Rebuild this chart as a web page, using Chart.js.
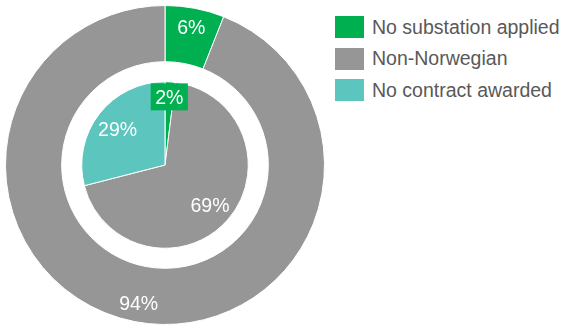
<!DOCTYPE html>
<html>
<head>
<meta charset="utf-8">
<script src="https://cdn.jsdelivr.net/npm/chart.js@4.4.1/dist/chart.umd.min.js"></script>
<style>
  html, body { margin: 0; padding: 0; background: #ffffff; }
  body { width: 568px; height: 329px; position: relative; overflow: hidden;
         font-family: "Liberation Sans", Arial, sans-serif; }
  #wrap { position: absolute; left: 5px; top: 5px; width: 320px; height: 320px; }
  #legend { position: absolute; left: 335px; top: 16px; }
  .item { display: flex; align-items: center; height: 22px; margin-bottom: 9.5px; }
  .swatch { width: 29px; height: 22px; margin-right: 8px; flex: none; }
  .lbl { font-size: 19.5px; color: #595959; white-space: nowrap; }
</style>
</head>
<body>
<div id="wrap"><canvas id="c"></canvas></div>
<div id="legend"></div>
<script>
// Categories and shares (percent)
const categories = ['No substation applied', 'Non-Norwegian', 'No contract awarded'];
const outerValues = [6, 94, null];   // outer ring
const innerValues = [2, 69, 29];     // inner pie
const colors = ['#00B050', '#969696', '#5CC6BE'];

// Legend
const legendEl = document.getElementById('legend');
categories.forEach((name, i) => {
  const row = document.createElement('div');
  row.className = 'item';
  const sw = document.createElement('div');
  sw.className = 'swatch';
  sw.style.background = colors[i];
  const tx = document.createElement('span');
  tx.className = 'lbl';
  tx.textContent = name;
  row.appendChild(sw);
  row.appendChild(tx);
  legendEl.appendChild(row);
});

// Percentage labels drawn on the arcs
const pctLabels = {
  id: 'pctLabels',
  afterDatasetsDraw(chart) {
    const ctx = chart.ctx;
    ctx.save();
    ctx.font = '19.5px "Liberation Sans", Arial, sans-serif';
    ctx.textAlign = 'center';
    ctx.textBaseline = 'middle';
    chart.data.datasets.forEach((ds, di) => {
      if (!ds.showLabels) return;
      const meta = chart.getDatasetMeta(di);
      meta.data.forEach((arc, i) => {
        const v = ds.data[i];
        if (v == null || !v) return;
        const p = arc.getProps(['x', 'y', 'startAngle', 'endAngle', 'innerRadius', 'outerRadius'], true);
        const mid = (p.startAngle + p.endAngle) / 2;
        const boxed = v < 5 && di > 0;
        const f = boxed ? 0.82 : ds.labelPos;
        const r = p.innerRadius + f * (p.outerRadius - p.innerRadius);
        const x = p.x + Math.cos(mid) * r;
        const y = p.y + Math.sin(mid) * r;
        const text = v + '%';
        if (boxed) {
          const w = ctx.measureText(text).width + 9;
          const h = 27;
          ctx.fillStyle = ds.backgroundColor[i];
          ctx.fillRect(x - w / 2, y - h / 2, w, h);
        }
        ctx.fillStyle = '#ffffff';
        ctx.fillText(text, x, y + 2);
      });
    });
    ctx.restore();
  }
};

new Chart(document.getElementById('c'), {
  type: 'doughnut',
  data: {
    labels: categories,
    datasets: [
      { data: outerValues, backgroundColor: colors, borderColor: '#ffffff', borderWidth: 1,
        weight: 56, showLabels: true, labelPos: 0.66 },
      { data: [1], backgroundColor: ['rgba(0,0,0,0)'], borderWidth: 0, weight: 20 },
      { data: innerValues, backgroundColor: colors, borderColor: '#ffffff', borderWidth: 1,
        weight: 83, showLabels: true, labelPos: 0.72 }
    ]
  },
  options: {
    responsive: true,
    maintainAspectRatio: false,
    animation: false,
    cutout: 0,
    layout: { padding: 0 },
    plugins: { legend: { display: false }, tooltip: { enabled: false } }
  },
  plugins: [pctLabels]
});
</script>
</body>
</html>
